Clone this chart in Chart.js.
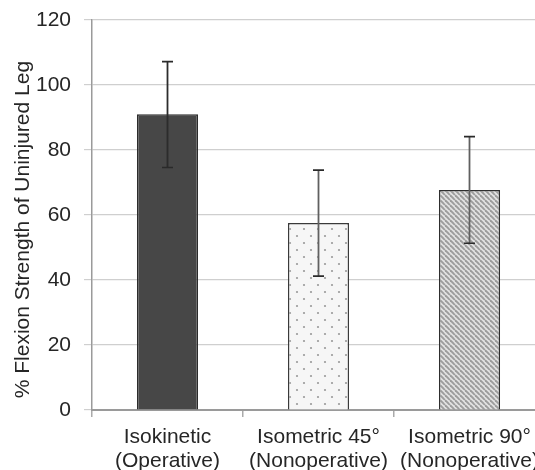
<!DOCTYPE html>
<html>
<head>
<meta charset="utf-8">
<script src="https://cdn.jsdelivr.net/npm/chart.js@4"></script>
<style>
  html, body { margin: 0; padding: 0; background: #fff; overflow: hidden; }
  #wrap { width: 548px; height: 470px; overflow: hidden; }
  #chart { display: block; margin-top: -5px; }
</style>
</head>
<body>
<div id="wrap"><canvas id="chart" width="548" height="488"></canvas></div>
<script>
const categories = [
  ['Isokinetic', '(Operative)'],
  ['Isometric 45°', '(Nonoperative)'],
  ['Isometric 90°', '(Nonoperative)']
];
const means = [91, 57.5, 67.7];
const errUpper = [107.2, 73.8, 84.1];
const errLower = [74.6, 41.2, 51.3];
const yTicks = [0, 20, 40, 60, 80, 100, 120];

function dotPattern(){
  const c = document.createElement('canvas');
  c.width = 14; c.height = 14;
  const g = c.getContext('2d');
  g.fillStyle = '#f6f6f6';
  g.fillRect(0, 0, 14, 14);
  g.fillStyle = '#9a9a9a';
  [[3, 3], [10, 10]].forEach(([x, y]) => {
    g.beginPath(); g.arc(x, y, 1.1, 0, Math.PI * 2); g.fill();
  });
  return g.createPattern(c, 'repeat');
}

function stripePattern(){
  const s = 5;
  const c = document.createElement('canvas');
  c.width = s; c.height = s;
  const g = c.getContext('2d');
  g.fillStyle = '#e2e2e2';
  g.fillRect(0, 0, s, s);
  g.strokeStyle = '#9c9c9c';
  g.lineWidth = 1.9;
  // "\" direction stripes
  for(let k = -1; k <= 1; k++){
    g.beginPath();
    g.moveTo(k * s, 0);
    g.lineTo(k * s + s, s);
    g.stroke();
  }
  return g.createPattern(c, 'repeat');
}

const errorBars = {
  id: 'errorBars',
  afterDatasetsDraw(chart){
    const ctx = chart.ctx;
    const meta = chart.getDatasetMeta(0);
    const y = chart.scales.y;
    ctx.save();
    meta.data.forEach((bar, i) => {
      const x = bar.x;
      const yt = y.getPixelForValue(errUpper[i]);
      const yb = y.getPixelForValue(errLower[i]);
      ctx.strokeStyle = i === 0 ? '#2c2c2c' : '#606060';
      ctx.lineWidth = 1.8;
      ctx.beginPath();
      ctx.moveTo(x, yt); ctx.lineTo(x, yb);
      ctx.stroke();
      ctx.strokeStyle = '#2a2a2a';
      ctx.lineWidth = 1.6;
      ctx.beginPath();
      ctx.moveTo(x - 5.5, yt); ctx.lineTo(x + 5.5, yt);
      ctx.moveTo(x - 5.5, yb); ctx.lineTo(x + 5.5, yb);
      ctx.stroke();
    });
    ctx.restore();
  }
};

const font = { family: '"Liberation Sans", Arial, sans-serif', size: 21, lineHeight: 1.143 };

new Chart(document.getElementById('chart'), {
  type: 'bar',
  data: {
    labels: categories,
    datasets: [{
      data: means,
      backgroundColor: ['#474747', dotPattern(), stripePattern()],
      borderColor: ['#2b2b2b', '#3a3a3a', '#2e2e2e'],
      borderWidth: 1.5,
      barPercentage: 0.405,
      categoryPercentage: 1
    }]
  },
  options: {
    responsive: false,
    animation: false,
    layout: { padding: { top: 5, right: 3, left: 11, bottom: 2 } },
    plugins: { legend: { display: false }, tooltip: { enabled: false } },
    scales: {
      x: {
        grid: { display: true, drawOnChartArea: false, offset: true, tickLength: 7, color: '#aaaaaa', lineWidth: 1.5 },
        border: { color: '#9a9a9a', width: 2 },
        ticks: { color: '#262626', font, padding: 8, maxRotation: 0, autoSkip: false }
      },
      y: {
        min: 0, max: 120,
        afterBuildTicks: (scale) => { scale.ticks = yTicks.map(v => ({ value: v })); },
        afterFit: (scale) => { scale.width = 81; },
        grid: { color: '#cfcfcf', lineWidth: 1.2, tickLength: 8 },
        border: { color: '#9a9a9a', width: 1.5 },
        ticks: { color: '#262626', font, padding: 13 },
        title: { display: true, text: '% Flexion Strength of Uninjured Leg     ', color: '#262626', font: { ...font, lineHeight: 1.2 }, padding: { top: 0, bottom: 1 } }
      }
    }
  },
  plugins: [errorBars]
});
</script>
</body>
</html>
